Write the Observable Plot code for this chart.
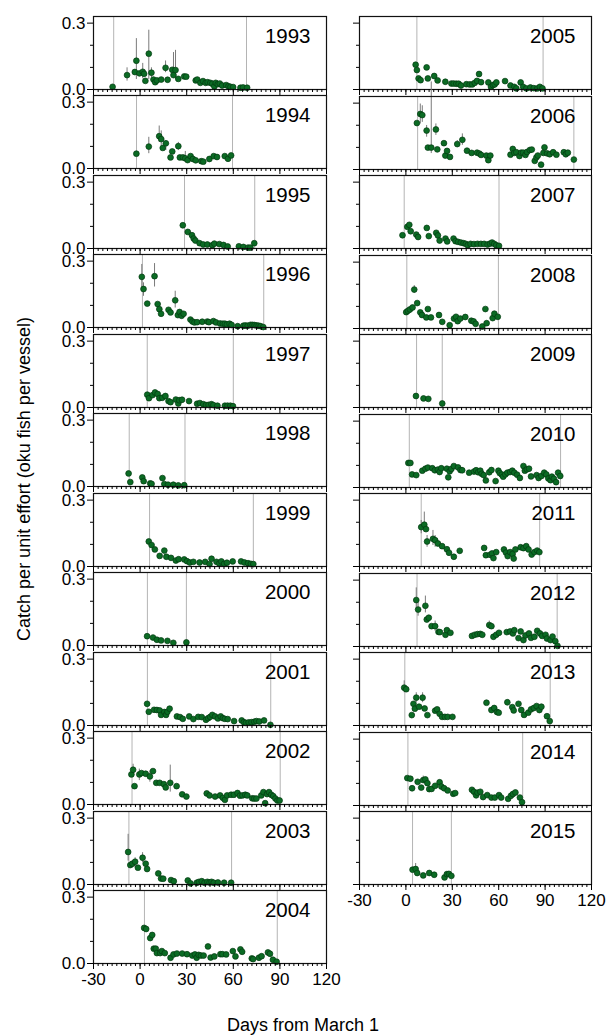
<!DOCTYPE html>
<html>
<head>
<meta charset="utf-8">
<script src="https://cdn.jsdelivr.net/npm/d3@7"></script>
<script src="https://cdn.jsdelivr.net/npm/@observablehq/plot@0.6"></script>
<style>
  body { margin: 0; background: #fff; }
  #fig { position: relative; width: 606px; height: 1036px; overflow: hidden;
         font-family: "Liberation Sans", Arial, Helvetica, sans-serif; color: #000; }
  #fig .panel { position: absolute; }
  #fig .panel svg { overflow: visible; }
  #ytitle { position: absolute; left: 24px; top: 479px; white-space: nowrap; font-size: 18px;
            transform: translate(-50%, -50%) rotate(-90deg); }
  #xtitle { position: absolute; left: 303px; top: 1025px; white-space: nowrap; font-size: 18px;
            transform: translate(-50%, -50%); }
</style>
</head>
<body>
<div id="fig"></div>
<script>
// Seasons, 1993-2015: opening and closing day of each season (days from March 1)
const years = d3.range(1993, 2016);
const seasonOpen  = [-17, -2.3, 28.6, 1.5, 4.6, -7, 6.1, 4.7, 4.7, -5.2, -7.2, 2.8,
                     7.1, 7.6, -1.1, 0.6, 6.9, 2.2, 9.9, 7.2, -0.7, 1.3, 4.3];
const seasonClose = [68.5, 59.5, 73.8, 79.6, 60, 28.9, 72.9, 29.8, 84.1, 90.2, 58.9, 88.3,
                     88.7, 108.6, 60.2, 59.8, 23.5, 100, 86.5, 97.8, 93.3, 75.5, 29.4];

// Daily catch per unit effort, by year
const day1993 = [-17.7,-8.4,-3.4,-2.4,-0.4,1.7,2.6,3.4,5.6,7.3,8.6,9.7,10.8,13.6,16.4,17.7,20.7,21.5,22.8,24.6,28.4,29.7,35.8,36.8,38.8,40.5,42.2,43.5,45.2,46.5,47.8,48.7,50,51.3,52.8,55.4,56.9,58.2,59.9,64.6,66.3,68.9];
const cpue1993 = [0.012,0.065,0.079,0.130,0.073,0.080,0.071,0.039,0.162,0.076,0.045,0.033,0.041,0.045,0.098,0.044,0.089,0.065,0.088,0.048,0.059,0.058,0.041,0.045,0.030,0.038,0.030,0.033,0.030,0.026,0.014,0.030,0.024,0.027,0.018,0.020,0.015,0.012,0.011,0.008,0.009,0.008];
const day1994 = [-2.4,5.6,12.3,13.6,14.6,16.6,19.6,20.7,24.6,25.6,27.6,29.1,30.6,32.5,34,35.8,39.4,40.7,44.6,47.4,49.5,54.5,56.6,58.6];
const cpue1994 = [0.067,0.099,0.146,0.133,0.093,0.114,0.050,0.077,0.101,0.050,0.050,0.046,0.038,0.056,0.043,0.037,0.033,0.031,0.043,0.056,0.052,0.056,0.044,0.059];
const day1995 = [27.5,30.7,33.4,34.5,35.6,38.3,40.6,43.3,46.5,47.8,51,53.7,56.4,63.6,66.5,69.5,71,73.5];
const cpue1995 = [0.105,0.075,0.060,0.045,0.036,0.024,0.018,0.018,0.015,0.022,0.020,0.016,0.009,0.010,0.007,0.004,0.004,0.024];
const day1996 = [1.1,2.2,4.6,9.3,11.3,12.4,13.5,18.3,19.6,22.6,24.3,25.4,26.7,28,32.4,33.7,35,36.7,40,43.3,44.3,47.2,48.9,51.5,53.3,54.6,55.9,57.6,58.9,62.8,66.5,67.8,69.3,71.1,72.4,73.7,75,76.3,77.6,79.3];
const cpue1996 = [0.229,0.174,0.108,0.232,0.106,0.083,0.062,0.080,0.068,0.123,0.056,0.070,0.053,0.062,0.036,0.027,0.023,0.024,0.026,0.027,0.024,0.029,0.023,0.018,0.017,0.017,0.014,0.017,0.012,0.006,0.008,0.009,0.008,0.012,0.012,0.011,0.009,0.008,0.006,0.002];
const day1997 = [4.6,5.7,8,9.6,11.3,12.4,14.3,16.3,18.3,19.6,23,24.6,25.2,27,31.5,36.7,38.5,40.7,42.4,44.1,45.9,47.2,49.8,54.6,56.3,58.1,59.8];
const cpue1997 = [0.058,0.042,0.056,0.068,0.061,0.042,0.044,0.052,0.029,0.024,0.036,0.018,0.033,0.035,0.029,0.017,0.020,0.015,0.011,0.012,0.015,0.011,0.008,0.008,0.008,0.008,0.006];
const day1998 = [-7.4,-6.3,1.4,2.3,6.5,7.4,14.4,15.6,18,21.4,24.6,28.4];
const cpue1998 = [0.059,0.020,0.041,0.024,0.014,0.012,0.038,0.011,0.008,0.008,0.005,0.006];
const day1999 = [5.6,7.4,9.5,12.6,15.6,16.9,19.9,23,24.8,28.4,30.2,32,34.3,38.3,41.9,44.7,46,49.2,51,52.3,54.1,55.9,59.6,65,67.2,69.5,71.3,72.9];
const cpue1999 = [0.113,0.097,0.077,0.048,0.072,0.044,0.039,0.027,0.033,0.032,0.024,0.018,0.021,0.018,0.021,0.011,0.035,0.021,0.014,0.023,0.012,0.017,0.023,0.023,0.018,0.015,0.012,0.011];
const day2000 = [4.5,8.3,10.8,13.5,17.6,21.4,29.8];
const cpue2000 = [0.042,0.036,0.026,0.023,0.021,0.012,0.014];
const day2001 = [4.5,5.6,9,10.8,12.6,13.5,15.6,16.7,17.6,19,23.7,25.7,27.5,31.6,34.3,37.4,39.7,42.4,43.8,45.1,46.5,48.3,50.1,51.9,53.3,54.6,56.4,60.5,65.4,66.8,68.1,69.9,71.7,73.5,74.9,76.7,79.8,83.9];
const cpue2001 = [0.098,0.062,0.071,0.070,0.068,0.048,0.061,0.048,0.062,0.076,0.041,0.038,0.030,0.041,0.029,0.039,0.038,0.026,0.033,0.039,0.048,0.041,0.032,0.041,0.033,0.030,0.029,0.020,0.023,0.015,0.012,0.014,0.015,0.017,0.020,0.018,0.023,0.003];
const day2002 = [-5.6,-4.5,-3.6,-0.5,0.9,3.6,6.3,8.3,10.4,12.6,15.3,16.5,19.4,23.5,27.1,29.8,42.9,44.7,48.3,51.5,53.3,54.6,56,58.6,60.4,62.7,64.3,65.9,67.7,69,72.2,73.5,74.9,78,79.4,80.5,81.7,83,84.4,85.7,87.1,88.4,89.8];
const cpue2002 = [0.136,0.157,0.083,0.136,0.142,0.139,0.127,0.151,0.098,0.098,0.092,0.077,0.098,0.083,0.046,0.036,0.050,0.041,0.036,0.041,0.030,0.021,0.041,0.044,0.044,0.052,0.040,0.041,0.044,0.041,0.028,0.027,0.027,0.041,0.056,0.006,0.047,0.056,0.044,0.038,0.027,0.018,0.018];
const day2003 = [-7.7,-6.3,-5,-3.2,-1.4,1.6,3.6,4.5,11.7,13.5,14.9,19.9,21.7,30.7,32.5,36.5,37.9,39.7,41.5,43.3,44.7,46,47.4,50.1,54.1,58.6];
const cpue2003 = [0.147,0.088,0.094,0.103,0.076,0.121,0.094,0.070,0.050,0.027,0.026,0.020,0.015,0.018,0.005,0.008,0.012,0.015,0.008,0.012,0.009,0.012,0.008,0.009,0.008,0.008];
const day2004 = [2.6,3.9,6.5,7.8,8.8,10.1,10.8,12.9,14,15.9,19.6,21.5,23.7,27.1,30.2,33.6,35.3,36.4,37.7,39.2,40.9,43.7,45.4,47.8,51.7,53,55.4,59.7,61.4,64.6,65.7,71.9,72.8,76.5,78.2,82.3,83.6,85.5,87.9];
const cpue2004 = [0.161,0.156,0.115,0.129,0.067,0.067,0.047,0.047,0.056,0.047,0.026,0.041,0.045,0.045,0.042,0.036,0.041,0.026,0.039,0.036,0.036,0.077,0.027,0.032,0.042,0.042,0.041,0.056,0.032,0.064,0.053,0.023,0.020,0.026,0.033,0.050,0.044,0.017,0.008];
const day2005 = [6.3,7.1,8.2,9.5,13.4,14.2,18.3,20.5,25.5,29.4,30.9,32.6,34.1,35.6,39.1,41.2,42.9,44.5,46,47.3,48.6,53.3,55,56.3,57.4,58.5,64.1,67.6,70.1,71.4,74.2,75.8,77.9,80.5,82.7,85,86.6,88.3];
const cpue2005 = [0.112,0.088,0.050,0.042,0.100,0.050,0.061,0.041,0.035,0.027,0.027,0.026,0.026,0.018,0.024,0.023,0.023,0.030,0.039,0.070,0.033,0.032,0.012,0.020,0.023,0.032,0.038,0.018,0.012,0.005,0.032,0.012,0.005,0.009,0.006,0.005,0.012,0.005];
const day2006 = [7.1,9.3,10.6,13.4,14.2,16.4,19.4,20.3,24.6,25.5,26.6,28.5,33.2,36.5,39.5,42.5,46,47.5,48.6,52,53.3,54.6,67.6,69.1,70.1,71.4,73.4,74.5,75.8,77.3,78.3,80.1,81.4,83.3,84.4,85.3,87.4,88.9,89.6,91.3,93,95.2,97.3,102.1,103.4,104.7,108.6];
const cpue2006 = [0.210,0.251,0.246,0.176,0.099,0.099,0.181,0.091,0.119,0.063,0.084,0.057,0.115,0.134,0.085,0.075,0.076,0.072,0.066,0.063,0.042,0.063,0.067,0.093,0.075,0.078,0.061,0.076,0.076,0.066,0.079,0.088,0.090,0.039,0.055,0.063,0.022,0.075,0.100,0.073,0.069,0.078,0.067,0.078,0.069,0.076,0.045];
const day2007 = [-2.2,0.9,2.2,3.1,6.7,7.9,13.5,14.8,19.6,20.7,21.8,25.6,26.7,30.8,32.1,33.7,35.5,37.3,38.7,40,41.8,44,46.3,48.5,50.6,52.8,54.4,55.7,57.1,58.4,60.2];
const cpue2007 = [0.060,0.098,0.107,0.078,0.063,0.052,0.093,0.056,0.071,0.059,0.036,0.045,0.032,0.045,0.033,0.030,0.027,0.024,0.021,0.015,0.021,0.020,0.021,0.021,0.021,0.018,0.022,0.027,0.021,0.015,0.012];
const day2008 = [0.2,1.3,2.6,4.3,5.4,7.3,9.3,10.4,13.2,14.2,16.2,21.4,23.5,28.3,31.1,32.4,33.5,35.2,38.4,42.3,43.8,45.1,49.4,51.4,52.2,56.1,57.2,59.4];
const cpue2008 = [0.074,0.080,0.086,0.095,0.176,0.115,0.073,0.061,0.050,0.088,0.050,0.061,0.030,0.015,0.045,0.053,0.033,0.045,0.052,0.035,0.032,0.021,0.009,0.088,0.024,0.047,0.067,0.053];
const day2009 = [6.5,11.4,14.5,23.5];
const cpue2009 = [0.052,0.041,0.039,0.018];
const day2010 = [1.6,2.9,4,6.7,10.6,12.6,14.2,17.1,18.7,20.7,21.8,22.9,26.5,27.4,28.3,29.4,31,33.7,35.3,36.4,40.9,44,45.4,46.7,48.1,49,50.3,51.7,53.9,55.3,58,59.8,60.7,62,62.9,64.3,65.6,67.4,68.8,70.1,71.9,73.7,76,76.9,78.2,79.6,80.9,84.5,85.8,87.6,89.4,90.8,92.1,93.5,94.4,95.7,97.1,98.4,99.8];
const cpue2010 = [0.111,0.111,0.059,0.056,0.076,0.085,0.090,0.087,0.078,0.081,0.070,0.087,0.085,0.046,0.073,0.084,0.097,0.091,0.079,0.078,0.067,0.072,0.078,0.069,0.076,0.062,0.056,0.032,0.069,0.079,0.029,0.076,0.065,0.058,0.049,0.059,0.067,0.070,0.076,0.067,0.058,0.043,0.097,0.076,0.082,0.085,0.050,0.056,0.043,0.052,0.067,0.059,0.041,0.033,0.049,0.040,0.024,0.067,0.052];
const day2011 = [9.9,11.9,13,13.7,17.5,18.9,20.7,23.4,26.5,27.9,31,34.8,50.6,51.7,54.4,55.7,56.6,58.4,63.4,64.7,65.8,67.4,69,69.7,70.8,74.2,76,77.8,79.3,81.3,83.1,84.9,86.3];
const cpue2011 = [0.178,0.189,0.169,0.113,0.125,0.119,0.104,0.092,0.078,0.062,0.044,0.071,0.084,0.051,0.053,0.059,0.038,0.065,0.077,0.063,0.047,0.065,0.057,0.036,0.077,0.087,0.083,0.092,0.077,0.054,0.065,0.072,0.065];
const day2012 = [6.7,7.9,12.6,13.5,14.8,16.6,18.9,21.1,22,25.6,26.5,28.8,42.7,44.5,46.3,48.1,49.4,53.9,55.3,56.6,58.4,60.2,65.2,67.4,69.2,70.1,72.8,74.2,76,77.3,79.6,80.9,83.1,84.9,86.7,88.1,90.3,91.2,93.5,94.8,96.6,98];
const cpue2012 = [0.210,0.167,0.184,0.122,0.130,0.092,0.092,0.066,0.065,0.053,0.074,0.062,0.048,0.053,0.056,0.057,0.053,0.097,0.092,0.044,0.053,0.062,0.065,0.068,0.059,0.074,0.038,0.068,0.029,0.050,0.059,0.039,0.044,0.071,0.059,0.048,0.053,0.036,0.029,0.045,0.024,0.003];
const day2013 = [-1.1,0.2,3.8,4.9,5.8,6.7,8.5,10.8,12.1,13.9,18.9,20.2,21.8,23.4,25.2,27,30.1,52.1,55.3,57.1,58.9,60,65.6,68.8,69.7,72.8,74.6,76.4,79.1,80.9,82.7,84.5,86.3,87.6,91.2,93];
const cpue2013 = [0.171,0.164,0.047,0.098,0.076,0.126,0.085,0.126,0.077,0.047,0.067,0.073,0.053,0.039,0.039,0.039,0.039,0.103,0.070,0.079,0.061,0.058,0.105,0.083,0.068,0.098,0.070,0.048,0.058,0.073,0.079,0.088,0.070,0.085,0.042,0.020];
const day2014 = [0.9,2.9,4,7.6,9.9,11.2,12.6,13.9,15.1,16.6,18.9,21.8,22.9,24.7,27,30.6,31.9,42.7,44,45.4,46.3,48.1,49.9,52.6,55.3,57.5,60.2,61.6,66.1,67.9,69.2,70.8,73.7,75.1];
const cpue2014 = [0.124,0.121,0.078,0.107,0.081,0.115,0.118,0.101,0.074,0.075,0.089,0.105,0.086,0.078,0.068,0.053,0.056,0.071,0.062,0.046,0.058,0.062,0.038,0.047,0.036,0.036,0.047,0.036,0.030,0.044,0.052,0.059,0.036,0.015];
const day2015 = [4.3,6.3,7.3,11.2,15.1,18.3,25,26.5,27.8,29.4];
const cpue2015 = [0.067,0.070,0.052,0.041,0.052,0.044,0.032,0.047,0.048,0.039];

// Uncertainty intervals on individual days
const errYear = [1993,1993,1993,1993,1993,1993,1993,1993, 1994,1994,1994,1994,1994,1994,
                 1996,1996,1996,1996, 2002,2002,2002,2002, 2003,2003,2003,
                 2006,2006,2006,2006,2006,2006,2006, 2008, 2011,2011,2011,2011,2011,
                 2012,2012,2012,2012,2012, 2013,2013,2013, 2014, 2015];
const errDay  = [-8.4,-2.4,1.7,5.6,7.3,16.4,21.5,22.8, 5.6,12.3,13.6,16.6,24.6,29.1,
                 1.1,2.2,9.3,22.6, -4.5,-0.5,6.3,19.4, -7.7,-3.2,1.6,
                 9.3,10.6,13.4,16.4,19.4,33.2,36.5, 5.4, 9.9,11.9,13.7,17.5,18.9,
                 6.7,7.9,12.6,18.9,53.9, -1.1,6.7,10.8, 11.2, 6.3];
const errLow  = [0.038,0.045,0.048,0.045,0.053,0.076,0.061,0.045, 0.067,0.118,0.104,0.081,0.081,0.030,
                 0.179,0.141,0.183,0.088, 0.123,0.108,0.101,0.056, 0.106,0.076,0.098,
                 0.206,0.213,0.146,0.072,0.154,0.101,0.109, 0.159, 0.148,0.155,0.087,0.095,0.087,
                 0.167,0.137,0.152,0.069,0.077, 0.148,0.103,0.103, 0.101, 0.058];
const errHigh = [0.098,0.230,0.118,0.268,0.098,0.129,0.167,0.177, 0.141,0.192,0.170,0.126,0.118,0.077,
                 0.285,0.202,0.289,0.164, 0.182,0.160,0.152,0.178, 0.227,0.121,0.144,
                 0.296,0.288,0.199,0.396,0.206,0.131,0.161, 0.194, 0.208,0.246,0.140,0.163,0.140,
                 0.265,0.198,0.228,0.115,0.115, 0.202,0.148,0.148, 0.133, 0.095];

// Axis ticks
const xTicks = [-30, 0, 30, 60, 90, 120];
const xTickLabels = ["-30", "0", "30", "60", "90", "120"];
const yTicks = [0, 0.3];
const yTickLabels = ["0.0", "0.3"];

const series = {
  1993: [day1993, cpue1993], 1994: [day1994, cpue1994], 1995: [day1995, cpue1995],
  1996: [day1996, cpue1996], 1997: [day1997, cpue1997], 1998: [day1998, cpue1998],
  1999: [day1999, cpue1999], 2000: [day2000, cpue2000], 2001: [day2001, cpue2001],
  2002: [day2002, cpue2002], 2003: [day2003, cpue2003], 2004: [day2004, cpue2004],
  2005: [day2005, cpue2005], 2006: [day2006, cpue2006], 2007: [day2007, cpue2007],
  2008: [day2008, cpue2008], 2009: [day2009, cpue2009], 2010: [day2010, cpue2010],
  2011: [day2011, cpue2011], 2012: [day2012, cpue2012], 2013: [day2013, cpue2013],
  2014: [day2014, cpue2014], 2015: [day2015, cpue2015]
};

const FONT = '"Liberation Sans", Arial, Helvetica, sans-serif';
const columns = [
  {years: d3.range(1993, 2005), left: 40, marginLeft: 53, innerW: 233, pitch: 79.45, labels: true},
  {years: d3.range(2005, 2016), left: 340, marginLeft: 19, innerW: 232, pitch: 79.5, labels: false}
];
const firstTop = 16, innerH = 73;

function panel(year, col, isBottom) {
  const [days, vals] = series[year];
  const pts = days.map((d, i) => ({day: d, cpue: vals[i]}));
  const bars = errYear.map((y, i) => ({year: y, day: errDay[i], lo: errLow[i], hi: errHigh[i]}))
                      .filter(b => b.year === year);
  const k = years.indexOf(year);
  const season = [seasonOpen[k], seasonClose[k]];
  const marginBottom = isBottom ? 34 : 6;
  const blank = () => "";
  return Plot.plot({
    width: col.marginLeft + col.innerW + 3,
    height: innerH + marginBottom,
    marginTop: 0, marginRight: 3, marginLeft: col.marginLeft, marginBottom,
    style: {background: "transparent", overflow: "visible", fontFamily: FONT, color: "#000"},
    x: {domain: [-30, 120], axis: null},
    y: {domain: [0, 0.33], axis: null},
    marks: [
      Plot.ruleX(season, {stroke: "#b4b4b4", strokeWidth: 1}),
      Plot.ruleX(bars, {x: "day", y1: "lo", y2: "hi", stroke: "#7a7a7a", strokeWidth: 1}),
      Plot.dot(pts, {x: "day", y: "cpue", r: 2.9, fill: "#0b6b24", stroke: "#033a10", strokeWidth: 0.7}),
      Plot.frame({stroke: "#111", strokeWidth: 1.2}),
      Plot.axisX({ticks: d3.range(-30, 121, 3), tickSize: 3, tickFormat: blank, label: null}),
      Plot.axisX({ticks: xTicks, tickSize: 6, tickPadding: 3, label: null, fontSize: 17,
                  tickFormat: isBottom ? (d => xTickLabels[xTicks.indexOf(d)]) : blank}),
      Plot.axisY({ticks: [0.1, 0.2], tickSize: 3, tickFormat: blank, label: null}),
      Plot.axisY({ticks: yTicks, tickSize: 6, tickPadding: 2, label: null, fontSize: 17,
                  tickFormat: col.labels ? (d => yTickLabels[yTicks.indexOf(d)]) : blank}),
      Plot.text([String(year)], {frameAnchor: "top-right", dx: -16, dy: 12, fontSize: 20.5})
    ]
  });
}

const fig = document.getElementById("fig");
for (const col of columns) {
  col.years.forEach((year, i) => {
    const holder = document.createElement("div");
    holder.className = "panel";
    holder.style.left = col.left + "px";
    holder.style.top = Math.round(firstTop + i * col.pitch) + "px";
    holder.appendChild(panel(year, col, i === col.years.length - 1));
    fig.appendChild(holder);
  });
}

const yTitle = document.createElement("div");
yTitle.id = "ytitle";
yTitle.textContent = "Catch per unit effort (oku fish per vessel)";
fig.appendChild(yTitle);
const xTitle = document.createElement("div");
xTitle.id = "xtitle";
xTitle.textContent = "Days from March 1";
fig.appendChild(xTitle);
</script>
</body>
</html>
